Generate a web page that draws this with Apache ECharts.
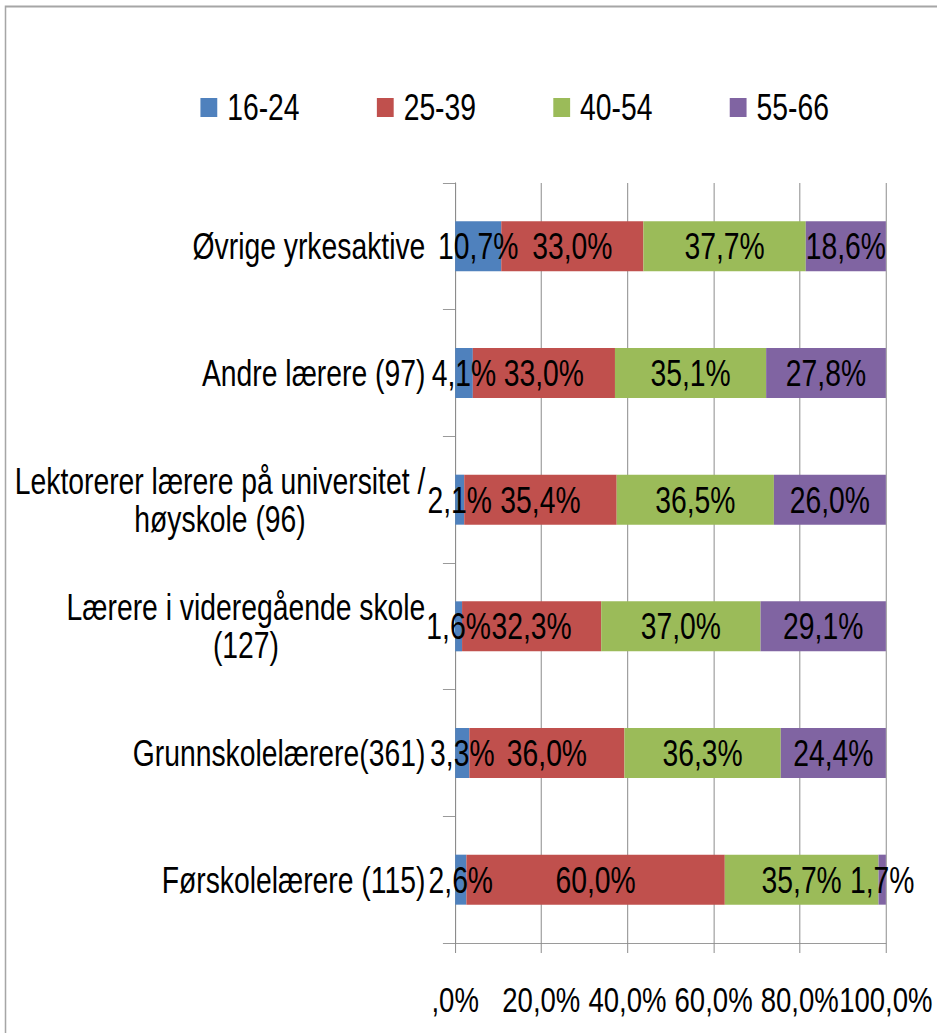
<!DOCTYPE html>
<html>
<head>
<meta charset="utf-8">
<script src="https://cdn.jsdelivr.net/npm/echarts@6/dist/echarts.min.js"></script>
<style>
  html, body { margin: 0; padding: 0; background: #fff; overflow: hidden; }
  /* no narrow font installed: draw wider and squeeze horizontally */
  #chart { width: 1225px; height: 1033px; transform: scaleX(0.765); transform-origin: 0 0; }
</style>
</head>
<body>
<div id="chart"></div>
<script>
// kategorier, øverst først
const categories = [
  'Øvrige yrkesaktive',
  'Andre lærere (97)',
  'Lektorerer lærere på universitet /\nhøyskole (96)',
  'Lærere i videregående skole\n(127)',
  'Grunnskolelærere(361)',
  'Førskolelærere (115)'
]
const ageGroups = ['16-24', '25-39', '40-54', '55-66']
const age16to24 = [10.7, 4.1, 2.1, 1.6, 3.3, 2.6]
const age25to39 = [33.0, 33.0, 35.4, 32.3, 36.0, 60.0]
const age40to54 = [37.7, 35.1, 36.5, 37.0, 36.3, 35.7]
const age55to66 = [18.6, 27.8, 26.0, 29.1, 24.4, 1.7]
const xTickLabels = [',0%', '20,0%', '40,0%', '60,0%', '80,0%', '100,0%']

const colors = ['#4F81BD', '#C0504D', '#9BBB59', '#8064A2']
const font = "'Liberation Sans', Arial, sans-serif"
const fontSize = 37
const lineGray = '#8c8c8c'

const pct = v => v.toFixed(1).replace('.', ',') + '%'

const myChart = echarts.init(document.getElementById('chart'), null, { renderer: 'svg' })

const seriesData = [age16to24, age25to39, age40to54, age55to66]

const option = {
  animation: false,
  backgroundColor: '#fff',
  textStyle: { fontFamily: font },
  graphic: [{
    type: 'rect',
    shape: { x: 7.2, y: 6.5, width: 1300, height: 1100 },
    style: { fill: 'none', stroke: '#a6a6a6', lineWidth: 2 },
    silent: true
  }],
  legend: {
    data: ageGroups,
    top: 84,
    left: 257,
    itemWidth: 22,
    itemHeight: 19,
    itemGap: 101,
    icon: 'rect',
    textStyle: { color: '#000', fontSize: fontSize, fontFamily: font, padding: [0, 0, 0, 8] }
  },
  grid: {
    left: 595,
    right: 67,
    top: 183,
    bottom: 90,
    outerBoundsMode: 'none',
    containLabel: false
  },
  xAxis: {
    type: 'value',
    min: 0,
    max: 100,
    interval: 20,
    axisLine: { show: true, lineStyle: { color: lineGray, width: 1 } },
    axisTick: { show: true, length: 10, lineStyle: { color: lineGray, width: 1.31 } },
    splitLine: { show: true, lineStyle: { color: lineGray, width: 1.31 } },
    axisLabel: {
      margin: 39,
      color: '#000',
      fontSize: 36,
      fontFamily: font,
      showMinLabel: true,
      showMaxLabel: true,
      hideOverlap: false,
      formatter: v => xTickLabels[Math.round(v / 20)]
    }
  },
  yAxis: {
    type: 'category',
    inverse: true,
    data: categories,
    axisLine: { show: true, lineStyle: { color: lineGray, width: 1.31 } },
    axisTick: { show: true, length: 16, lineStyle: { color: lineGray, width: 1 } },
    axisLabel: {
      margin: 39,
      color: '#000',
      fontSize: fontSize,
      fontFamily: font,
      lineHeight: 38,
      formatter: v => '{c|' + v.split('\n').join('}\n{c|') + '}',
      rich: {
        c: { align: 'center', fontSize: fontSize, fontFamily: font, color: '#000', lineHeight: 38 }
      }
    }
  },
  series: ageGroups.map((name, i) => ({
    type: 'bar',
    name: name,
    stack: 'total',
    barWidth: 50,
    itemStyle: { color: colors[i] },
    label: {
      show: true,
      position: 'inside',
      color: '#000',
      fontSize: fontSize,
      fontFamily: font,
      formatter: p => pct(p.value)
    },
    data: seriesData[i]
  }))
}

myChart.setOption(option)
</script>
</body>
</html>
